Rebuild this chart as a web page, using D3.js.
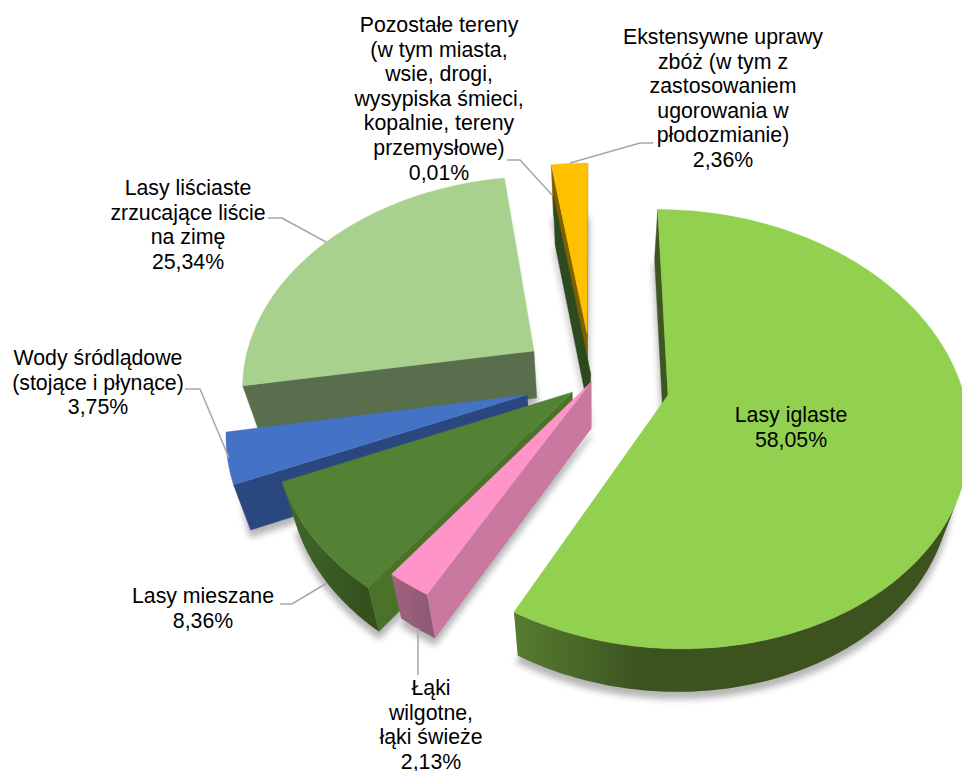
<!DOCTYPE html>
<html><head><meta charset="utf-8">
<script src="https://cdn.jsdelivr.net/npm/d3@7"></script>
<style>html,body{margin:0;padding:0;background:#fff}svg{display:block}text{font-family:"Liberation Sans",Arial,sans-serif;font-size:21.3px;fill:#000}</style>
</head><body><svg id="c" width="962" height="771"></svg>
<script>
// ---- data ----
const categories = ["Lasy iglaste","Łąki wilgotne, łąki świeże","Lasy mieszane","Wody śródlądowe (stojące i płynące)","Lasy liściaste zrzucające liście na zimę","Pozostałe tereny (w tym miasta, wsie, drogi, wysypiska śmieci, kopalnie, tereny przemysłowe)","Ekstensywne uprawy zbóż (w tym z zastosowaniem ugorowania w płodozmianie)"];
const values = [58.05,2.13,8.36,3.75,25.34,0.01,2.36];
const labelLines = [
  ["Lasy iglaste","58,05%"],
  ["Łąki","wilgotne,","łąki świeże","2,13%"],
  ["Lasy mieszane","8,36%"],
  ["Wody śródlądowe","(stojące i płynące)","3,75%"],
  ["Lasy liściaste","zrzucające liście","na zimę","25,34%"],
  ["Pozostałe tereny","(w tym miasta,","wsie, drogi,","wysypiska śmieci,","kopalnie, tereny","przemysłowe)","0,01%"],
  ["Ekstensywne uprawy","zbóż (w tym z","zastosowaniem","ugorowania w","płodozmianie)","2,36%"]
];
// ---- styling / layout ----
const explode   = [0.265,0.005,0.085,0.228,0.25,0.03,0.235];
const topColor  = ["#92d050","#ff94c9","#548235","#4472c4","#a9d18e","#385723","#ffc000"];
const sideColor = ["#3e5622","#c9789f","#4a7329","#2a4780","#596e4c","#2d4a1e","#7f6000"];
const rimStops  = [["#577d30","#3c5320",515,640],["#a0627f","#8f5a75",392,430],["#416829","#33501d",285,370],["#2a4780","#2a4780",0,1],["#596e4c","#596e4c",0,1],["#2d4a1e","#2d4a1e",0,1],["#7f6000","#7f6000",0,1]];
const drawOrder = [6,5,0,4,3,2,1];
const labelCentre = [[791,422],[431,695],[203,603],[98,365],[188,195],[439,32],[723,44]];
const leaders = [null,[[418,628],[418,675]],[[280,604],[292,604],[327,583]],[[185,389],[200,389],[229,458]],[[268,218],[282,218],[326,242]],[[507,160],[520,160],[552,195]],[[653,143],[640,143],[570,163]]];
const lineGap = 24.6;

const svg = d3.select("#c");
const defs = svg.append("defs");
defs.append("filter").attr("id","blur").attr("x","-30%").attr("y","-30%").attr("width","160%").attr("height","160%")
  .append("feGaussianBlur").attr("stdDeviation",3.2);

const cx=592, cy=381, rx=293, ry=210, k=0.1536, depth=47;
const xS = d3.scaleLinear().domain([-1,1]).range([cx-rx,cx+rx]);
const yS = d3.scaleLinear().domain([-1,1]).range([cy+ry,cy-ry]);
const pie = d3.pie().sort(null).value(d=>d).startAngle(0).endAngle(2*Math.PI);
const arcs = pie(values);
const project = (X,Y)=>{const w=1+k*Y;return [xS(X/w),yS(Y/w)];};
const drop = p=>[cx+(p[0]-cx)*0.952, p[1]+depth-0.0133*(p[1]-350)];
const line = d3.line();
const area = pts=>d3.polygonArea(pts);

function addWall(g,P,Q,fill){
  const quad=[P,Q,drop(Q),drop(P)];
  if(area(quad)>0) g.append("path").attr("d",line(quad)+"Z").attr("fill",fill).attr("stroke",fill).attr("stroke-width",.4);
}
drawOrder.forEach(i=>{
  const a=arcs[i], mid=(a.startAngle+a.endAngle)/2, D=explode[i];
  const ox=D*Math.sin(mid), oy=D*Math.cos(mid);
  const n=Math.max(2,Math.ceil((a.endAngle-a.startAngle)/(Math.PI/180)));
  const rim=d3.range(n+1).map(j=>{const t=a.startAngle+(a.endAngle-a.startAngle)*j/n;return project(ox+Math.sin(t),oy+Math.cos(t));});
  const apex=project(ox,oy);
  const face=[apex,...rim];
  const g=svg.append("g").attr("class","slice").attr("data-category",categories[i]).attr("data-value",values[i]);
  // soft shadow from the bottom face
  g.append("path").attr("d",line(face.map(drop))+"Z").attr("transform","translate(0,6)")
    .attr("fill","#8a8a8a").attr("stroke","#8a8a8a").attr("stroke-width",3).attr("opacity",.62).attr("filter","url(#blur)");
  // radial walls
  addWall(g,apex,rim[0],sideColor[i]);
  addWall(g,rim[rim.length-1],apex,sideColor[i]);
  // rim wall, visible segments only
  const s=rimStops[i], gid="rim"+i;
  const lg=defs.append("linearGradient").attr("id",gid).attr("gradientUnits","userSpaceOnUse").attr("x1",s[2]).attr("x2",s[3]).attr("y1",0).attr("y2",0);
  lg.append("stop").attr("offset",0).attr("stop-color",s[0]);
  lg.append("stop").attr("offset",1).attr("stop-color",s[1]);
  const vis=[];
  for(let j=0;j<rim.length-1;j++){
    if(area([rim[j],rim[j+1],drop(rim[j+1]),drop(rim[j])])>0){ if(!vis.length||vis[vis.length-1]!==rim[j]) vis.push(rim[j]); vis.push(rim[j+1]); }
  }
  if(vis.length>1){
    const rimPoly=[...vis,...vis.slice().reverse().map(drop)];
    g.append("path").attr("d",line(rimPoly)+"Z").attr("fill",`url(#${gid})`);
  }
  // top face
  g.append("path").attr("d",line(face)+"Z").attr("fill",topColor[i]).attr("stroke",topColor[i]).attr("stroke-width",.4);
});
// leader lines
svg.append("g").selectAll("path").data(leaders.filter(Boolean)).join("path")
  .attr("d",d=>line(d)).attr("fill","none").attr("stroke","#a6a6a6").attr("stroke-width",1.5);
// labels
labelLines.forEach((lines,i)=>{
  const t=svg.append("text").attr("text-anchor","middle");
  const [x,y]=labelCentre[i];
  lines.forEach((s,j)=>t.append("tspan").attr("x",x).attr("y",y+j*lineGap).text(s));
});
</script></body></html>
